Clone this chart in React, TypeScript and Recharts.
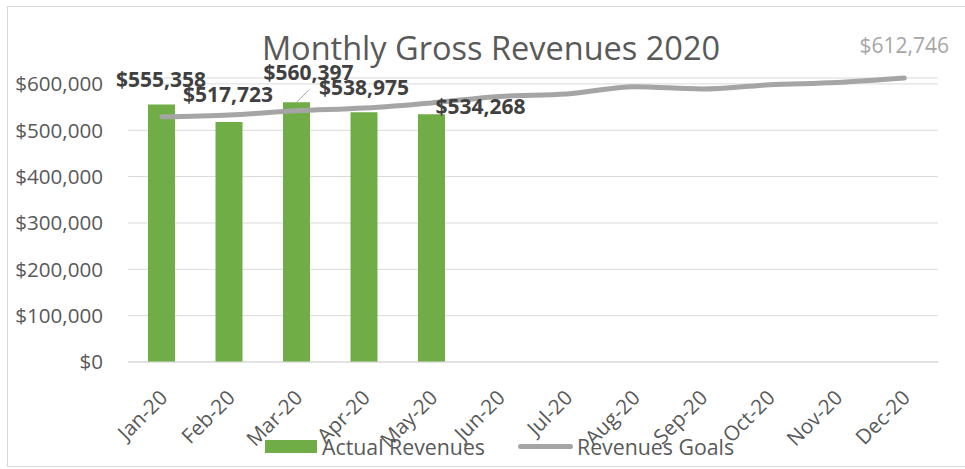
import {
  Bar,
  CartesianGrid,
  ComposedChart,
  Customized,
  LabelList,
  Legend,
  Line,
  XAxis,
  YAxis,
} from 'recharts';

const months = ['Jan-20', 'Feb-20', 'Mar-20', 'Apr-20', 'May-20', 'Jun-20', 'Jul-20', 'Aug-20', 'Sep-20', 'Oct-20', 'Nov-20', 'Dec-20'];
const actualRevenues = [555358, 517723, 560397, 538975, 534268, null, null, null, null, null, null, null];
const revenueGoals = [529000, 533000, 542000, 548000, 559000, 573000, 578000, 594000, 589000, 598000, 603000, 612746];
const yTicks = [0, 100000, 200000, 300000, 400000, 500000, 600000];

const data = months.map((month, i) => ({
  month,
  actual: actualRevenues[i],
  goal: revenueGoals[i],
}));

// hand-placed label offsets, like the Excel original
const barLabelOffsets = [
  [-0.5, -18],
  [-1, -20],
  [12, -22.5],
  [0, -17.5],
  [49, -0.5],
];

const FONT = '"Open Sans", sans-serif';
const GREEN = '#70ad47';
const GREY = '#a5a5a5';
const TEXT = '#595959';

const money = (v: number) => '$' + v.toLocaleString('en-US');

function BarValueLabel(props: any) {
  const { x, y, width, value, index } = props;
  if (value == null) return null;
  const [dx, dy] = barLabelOffsets[index] ?? [0, -18];
  const cx = x + width / 2;
  return (
    <g>
      {index === 2 && (
        <line x1={cx} y1={y} x2={cx + 13} y2={y - 13} stroke="#a6a6a6" strokeWidth={1} />
      )}
      <text
        x={cx + dx}
        y={y + dy}
        textAnchor="middle"
        fontFamily={FONT}
        fontWeight={700}
        fontSize={21}
        fill="#404040"
      >
        {money(value)}
      </text>
    </g>
  );
}

function GoalLabel(props: any) {
  const { x, y, value, index } = props;
  if (index !== months.length - 1) return null;
  return (
    <text x={x} y={y - 25} textAnchor="middle" fontFamily={FONT} fontSize={21} fill="#a6a6a6">
      {money(value)}
    </text>
  );
}

function MonthTick(props: any) {
  const { x, y, payload } = props;
  return (
    <text
      transform={`translate(${x + 7}, ${y + 29}) rotate(-45)`}
      textAnchor="end"
      fontFamily={FONT}
      fontSize={20.6}
      fill={TEXT}
    >
      {payload.value}
    </text>
  );
}

function ChartLegend() {
  return (
    <div style={{ display: 'flex', alignItems: 'center', fontFamily: FONT, fontSize: 21.3, color: TEXT, whiteSpace: 'nowrap' }}>
      <div style={{ width: 253, display: 'flex', alignItems: 'center' }}>
        <span style={{ width: 52, height: 13, background: GREEN, marginRight: 5 }} />
        <span>Actual Revenues</span>
      </div>
      <div style={{ display: 'flex', alignItems: 'center' }}>
        <span style={{ width: 55, height: 5, borderRadius: 3, background: GREY, marginRight: 4 }} />
        <span>Revenues Goals</span>
      </div>
    </div>
  );
}

export default function App() {
  return (
    <div style={{ position: 'absolute', left: 0, top: 0, width: 965, height: 469, background: '#fff' }}>
      <div
        style={{
          position: 'absolute',
          left: 7,
          top: 6,
          width: 970,
          height: 461,
          border: '1px solid #d9d9d9',
          boxSizing: 'border-box',
        }}
      />
      <ComposedChart
        width={965}
        height={469}
        data={data}
        margin={{ top: 78, right: 27, bottom: 47, left: 8 }}
        style={{ position: 'absolute', left: 0, top: 0 }}
      >
        <CartesianGrid stroke="#d9d9d9" vertical={false} />
        <XAxis
          dataKey="month"
          height={60}
          axisLine={{ stroke: '#d9d9d9' }}
          tickLine={false}
          interval={0}
          tick={<MonthTick />}
        />
        <YAxis
          width={120}
          domain={[0, 'dataMax']}
          ticks={yTicks}
          tickFormatter={money}
          axisLine={false}
          tickLine={false}
          tickMargin={19}
          tick={{ fill: TEXT, fontSize: 20.6, fontFamily: FONT }}
        />
        <Legend
          layout="horizontal"
          verticalAlign="middle"
          align="center"
          wrapperStyle={{ left: 265, top: 432, width: 'auto' }}
          content={<ChartLegend />}
        />
        <Bar dataKey="actual" name="Actual Revenues" fill={GREEN} barSize={27} isAnimationActive={false}>
          <LabelList dataKey="actual" content={<BarValueLabel />} />
        </Bar>
        <Line
          type="monotone"
          dataKey="goal"
          name="Revenues Goals"
          stroke={GREY}
          strokeWidth={5}
          strokeLinecap="round"
          dot={false}
          activeDot={false}
          isAnimationActive={false}
        >
          <LabelList dataKey="goal" content={<GoalLabel />} />
        </Line>
        <Customized
          component={() => (
            <text x={491} y={60} textAnchor="middle" fontFamily={FONT} fontSize={32.5} fill={TEXT}>
              Monthly Gross Revenues 2020
            </text>
          )}
        />
      </ComposedChart>
    </div>
  );
}
